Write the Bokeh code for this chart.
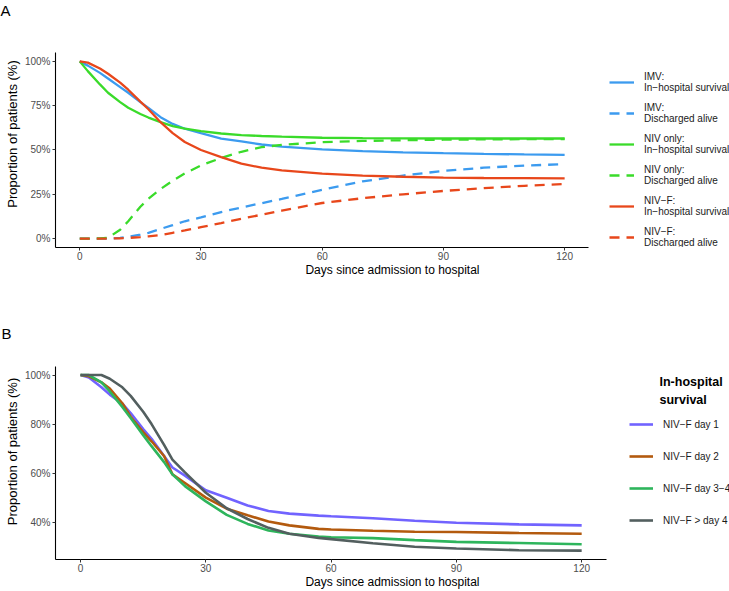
from bokeh.plotting import figure
from bokeh.models import Range1d, FixedTicker, Legend, LegendItem, Label
from bokeh.layouts import column
from bokeh.embed import file_html
from bokeh.resources import INLINE

# ---------------- Panel A data ----------------
days_a = [0, 2, 5, 7, 10, 12, 15, 17, 20, 23, 26, 30, 35, 40, 45, 50, 60, 70, 80, 90, 100, 110, 120]
imv_surv = [100, 97.6, 93.5, 90.3, 85.5, 82.3, 77, 73.7, 68.5, 64.7, 62, 59.5, 56.4, 54.9, 53.1, 51.9, 50.4, 49.4, 48.7, 48.2, 47.8, 47.5, 47.3]
imv_disc = [0, 0, 0, 0, 0.4, 1, 2.3, 3.3, 5.5, 7.6, 9.8, 12, 15, 17.6, 20, 22.4, 27.6, 32.3, 35.6, 38.2, 40, 41.2, 42]
niv_surv = [100, 94.5, 87, 82.3, 77, 73.8, 70.3, 68.3, 65.7, 63.5, 62, 60.6, 59.3, 58.4, 57.9, 57.5, 56.9, 56.7, 56.6, 56.5, 56.5, 56.5, 56.5]
niv_disc = [0, 0, 0.1, 0.5, 5, 9.8, 18, 22.5, 28, 32.7, 36.8, 41.3, 45.5, 49, 51.6, 52.9, 54.4, 55.1, 55.5, 55.8, 56, 56.1, 56.2]
nivf_surv = [100, 99.3, 96, 93, 88, 84, 77.3, 73, 65.7, 59.5, 54.5, 50, 46, 42.3, 40, 38.5, 36.7, 35.6, 34.9, 34.4, 34.2, 34.1, 34]
nivf_disc = [0, 0, 0, 0, 0.2, 0.4, 0.9, 1.3, 2, 3.3, 4.6, 6.5, 8.8, 11.2, 13.5, 15.8, 20.1, 22.8, 25, 26.9, 28.5, 29.8, 30.8]

series_a = [
    ("IMV:\nIn\u2212hospital survival", imv_surv, "#3C9BEF", False),
    ("IMV:\nDischarged alive", imv_disc, "#3C9BEF", True),
    ("NIV only:\nIn\u2212hospital survival", niv_surv, "#3ADB2A", False),
    ("NIV only:\nDischarged alive", niv_disc, "#3ADB2A", True),
    ("NIV\u2212F:\nIn\u2212hospital survival", nivf_surv, "#E8471B", False),
    ("NIV\u2212F:\nDischarged alive", nivf_disc, "#E8471B", True),
]
yticks_a = [0, 25, 50, 75, 100]
xticks = [0, 30, 60, 90, 120]

# ---------------- Panel B data ----------------
days_b = [0, 2, 5, 7, 10, 12, 15, 17, 20, 22, 25, 30, 35, 40, 45, 50, 57, 60, 70, 80, 90, 105, 120]
day1 = [100, 99, 95, 92, 88.3, 84.5, 78, 74, 67, 62.3, 59, 53, 50, 46.8, 44.6, 43.5, 42.7, 42.4, 41.6, 40.6, 39.8, 39.1, 38.7]
day2 = [100, 99.5, 97, 94.5, 88.5, 83, 76.7, 73, 67, 59.5, 56, 50, 45.5, 42.8, 40.3, 38.7, 37.3, 37, 36.5, 36.1, 36, 35.6, 35.3]
day34 = [100, 100, 97, 93.3, 87, 82.5, 75.5, 71, 64.5, 59.5, 54.7, 48.5, 43, 39.3, 36.6, 35.3, 34.2, 33.9, 33.5, 32.7, 32, 31.5, 31]
day4p = [100, 100, 100, 98.5, 95, 91.5, 85, 80, 71.5, 65.5, 60.3, 52, 45.7, 41.3, 37.7, 35.3, 33.6, 33.1, 31.4, 30, 29.3, 28.6, 28.4]

series_b = [
    ("NIV\u2212F day 1", day1, "#7163FF"),
    ("NIV\u2212F day 2", day2, "#B35A0E"),
    ("NIV\u2212F day 3\u22124", day34, "#2EB55C"),
    ("NIV\u2212F > day 4", day4p, "#535F5F"),
]
yticks_b = [40, 60, 80, 100]

FONT = "Liberation Sans"


def style_axes(p, ybounds):
    for ax in (p.xaxis[0], p.yaxis[0]):
        ax.axis_line_color = "black"
        ax.axis_line_width = 1.1
        ax.major_tick_line_color = "#333333"
        ax.major_tick_in = 0
        ax.major_tick_out = 3
        ax.minor_tick_line_color = None
        ax.major_label_text_font = FONT
        ax.major_label_text_font_size = "10px"
        ax.major_label_text_color = "#4D4D4D"
        ax.axis_label_text_font = FONT
        ax.axis_label_text_font_style = "normal"
        ax.axis_label_text_color = "black"
    p.xaxis[0].major_label_standoff = 1
    p.yaxis[0].major_label_standoff = 2
    p.xaxis[0].axis_label_text_font_size = "12px"
    p.yaxis[0].axis_label_text_font_size = "13px"
    p.xaxis[0].axis_label_standoff = 0
    p.yaxis[0].axis_label_standoff = 2
    p.xaxis[0].bounds = (-6, 126)
    p.yaxis[0].bounds = ybounds
    p.xgrid.grid_line_color = None
    p.ygrid.grid_line_color = None
    p.outline_line_color = None
    p.background_fill_color = "white"
    p.border_fill_color = "white"


def style_title(p, text, offset):
    p.title.text = text
    p.title.align = "left"
    p.title.vertical_align = "top"
    p.title.offset = offset
    p.title.standoff = 0
    p.title.text_font = FONT
    p.title.text_font_size = "15px"
    p.title.text_font_style = "normal"
    p.title.text_color = "black"


# ---------------- Figure A ----------------
# the frame extends to the right/top edges; the axis lines are limited by bounds
pA = figure(width=729, height=300, output_backend="svg", toolbar_location=None,
            x_range=Range1d(-6, 160.8), y_range=Range1d(-5, 123.05),
            min_border_left=55, min_border_right=0, min_border_top=20, min_border_bottom=53)
pA.xaxis.axis_label = "Days since admission to hospital"
pA.yaxis.axis_label = "Proportion of patients (%)"
pA.xaxis.ticker = FixedTicker(ticks=xticks)
pA.yaxis.ticker = FixedTicker(ticks=yticks_a)
pA.yaxis.major_label_overrides = {t: f"{t}%" for t in yticks_a}
style_axes(pA, (-5, 105))
style_title(pA, "A", -55)

items_a = []
for label, vals, color, dashed in series_a:
    r = pA.line(days_a, vals, line_color=color, line_width=2.3,
                line_dash=("10 7" if dashed else "solid"))
    items_a.append(LegendItem(label=label, renderers=[r]))

legA = Legend(items=items_a, location=(554, -1), margin=0, padding=0,
              glyph_width=25, glyph_height=22, label_height=22, label_standoff=10,
              spacing=9, border_line_alpha=0, background_fill_alpha=0,
              label_text_font=FONT, label_text_font_size="10px", label_text_color="#1A1A1A",
              label_text_line_height=1.1)
pA.add_layout(legA)

# ---------------- Figure B ----------------
pB = figure(width=729, height=291, output_backend="svg", toolbar_location=None,
            x_range=Range1d(-6, 155.4), y_range=Range1d(24.8, 112.85),
            min_border_left=54, min_border_right=0, min_border_top=43, min_border_bottom=29)
pB.xaxis.axis_label = "Days since admission to hospital"
pB.yaxis.axis_label = "Proportion of patients (%)"
pB.xaxis.ticker = FixedTicker(ticks=xticks)
pB.yaxis.ticker = FixedTicker(ticks=yticks_b)
pB.yaxis.major_label_overrides = {t: f"{t}%" for t in yticks_b}
style_axes(pB, (24.8, 103.6))
style_title(pB, "B", -54)

items_b = []
for label, vals, color in series_b:
    r = pB.line(days_b, vals, line_color=color, line_width=2.6)
    items_b.append(LegendItem(label=label, renderers=[r]))

legB = Legend(items=items_b, location=(574, 29), margin=0, padding=0,
              glyph_width=24, glyph_height=20, label_height=20, label_standoff=10,
              spacing=12, border_line_alpha=0, background_fill_alpha=0,
              label_text_font=FONT, label_text_font_size="10px", label_text_color="#1A1A1A")
pB.add_layout(legB)
pB.add_layout(Label(x=604, y=185, x_units="screen", y_units="screen",
                    text="In-hospital\nsurvival", text_font=FONT, text_font_size="12.5px",
                    text_font_style="bold", text_baseline="top", text_color="black",
                    text_line_height=1.35))

layout = column(pA, pB)
open("out.html", "w").write(file_html(layout, INLINE))
